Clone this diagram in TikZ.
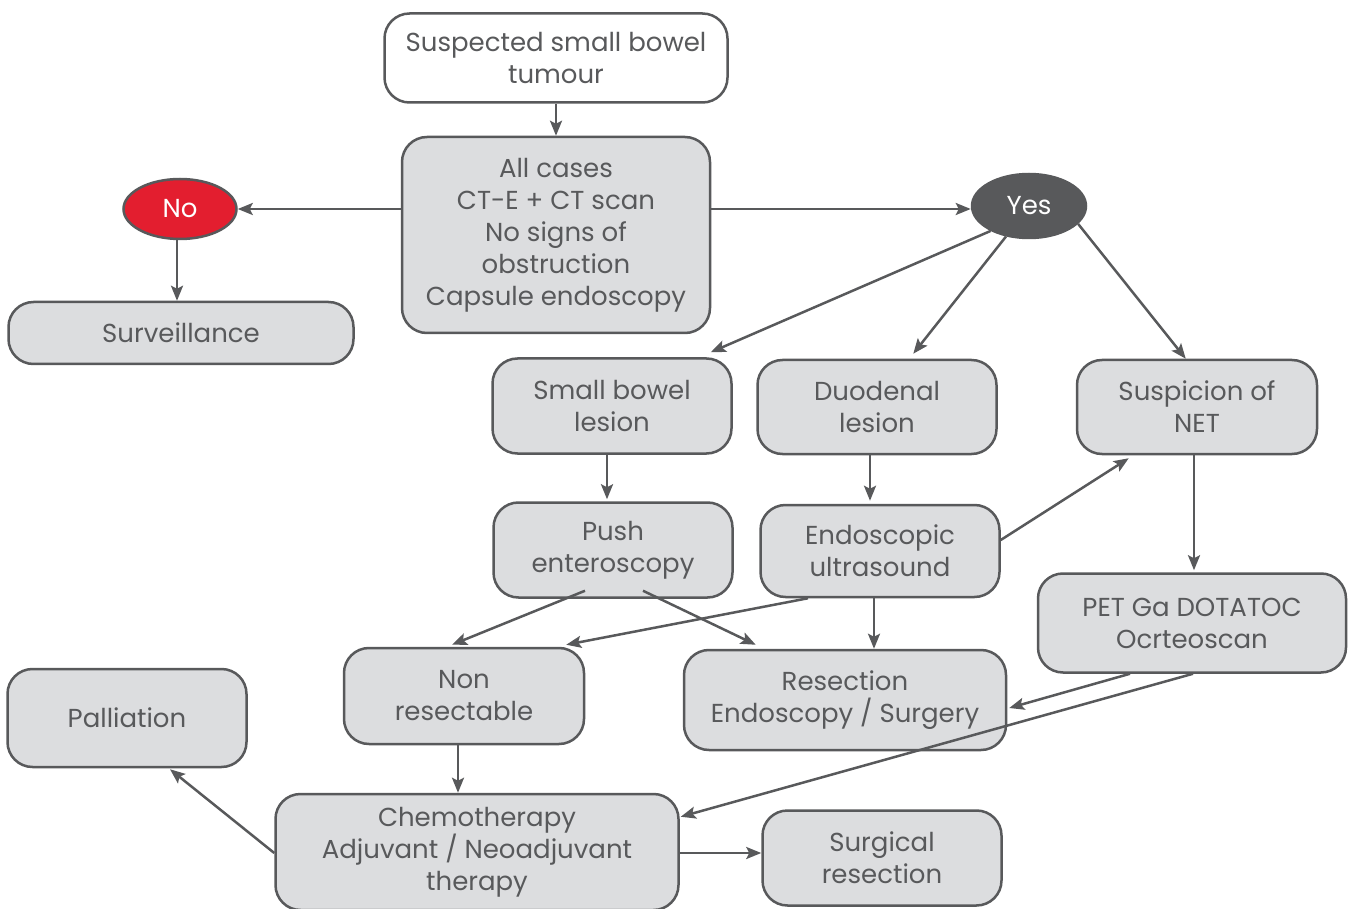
\documentclass[tikz,border=0pt]{standalone}
\usepackage{fontspec}
\setmainfont{Poppins}
\usetikzlibrary{shapes.geometric,arrows.meta,calc}
\definecolor{ink}{HTML}{58595B}
\definecolor{boxfill}{HTML}{DCDDDF}
\definecolor{nored}{HTML}{E31E2F}
\tikzset{
  box/.style={draw=ink, line width=2.5pt, fill=boxfill, rounded corners=25pt, align=center,
    text=ink, font=\fontsize{26}{32}\selectfont, inner sep=0pt},
  oval/.style={ellipse, draw=ink, line width=2.5pt, text=white, inner sep=0pt,
    font=\fontsize{26}{32}\selectfont},
  arr/.style={draw=ink, line width=2.5pt, -{Stealth[length=15pt,width=12pt,inset=3pt]}},
}
\begin{document}
\begin{tikzpicture}[x=1pt,y=-1pt]
\useasboundingbox (0,0) rectangle (1350,909);
\node[box, fill=white, minimum width=343, minimum height=89] (sus) at (556,58) {Suspected small bowel\\tumour};
\node[box, minimum width=308, minimum height=196] (all) at (556,235) {All cases\\CT-E + CT scan\\No signs of\\obstruction\\Capsule endoscopy};
\node[oval, fill=nored, minimum width=113, minimum height=60] (no) at (180,209) {No};
\node[oval, fill=ink, minimum width=114, minimum height=64] (yes) at (1029,206) {Yes};
\node[box, minimum width=345, minimum height=62] (surv) at (181,333) {Surveillance};
\node[box, minimum width=239, minimum height=95] (sbl) at (612,406) {Small bowel\\lesion};
\node[box, minimum width=239, minimum height=94] (duo) at (877,407) {Duodenal\\lesion};
\node[box, minimum width=240, minimum height=94] (net) at (1197,407) {Suspicion of\\NET};
\node[box, minimum width=239, minimum height=95] (push) at (613,550) {Push\\enteroscopy};
\node[box, minimum width=239, minimum height=92] (eus) at (880,551) {Endoscopic\\ultrasound};
\node[box, minimum width=308, minimum height=99] (pet) at (1192,623) {PET Ga DOTATOC\\Ocrteoscan};
\node[box, minimum width=240, minimum height=96] (nr) at (464,696) {Non\\resectable};
\node[box, minimum width=322, minimum height=100] (res) at (845,700) {Resection\\Endoscopy / Surgery};
\node[box, minimum width=239, minimum height=98] (pall) at (127,718) {Palliation};
\node[box, minimum width=403, minimum height=116] (chemo) at (477,852) {Chemotherapy\\Adjuvant / Neoadjuvant\\therapy};
\node[box, minimum width=239, minimum height=95] (surg) at (882,858) {Surgical\\resection};

\draw[arr] (sus.south) -- (all.north);
\draw[arr] ($(all.west)+(0,-26)$) -- (no.east);
\draw[arr] ($(all.east)+(0,-26)$) -- ($(yes.west)+(0,3)$);
\draw[arr] ($(no.south)+(-3,0)$) -- ($(surv.north)+(-4,0)$);
\draw[arr] (yes.213) -- ($(sbl.north east)+(-22,-5)$);
\draw[arr] (yes.233) -- ($(duo.north west)+(157,-5)$);
\draw[arr] (yes.340) -- ($(net.north west)+(110,0)$);
\draw[arr] ($(sbl.south)+(-5,0)$) -- ($(push.north)+(-6,-2)$);
\draw[arr] ($(duo.south)+(-7,0)$) -- ($(eus.north)+(-10,-3)$);
\draw[arr] ($(net.south)+(-3,0)$) -- ($(pet.north)+(2,-2)$);
\draw[arr] ($(eus.east)+(0,-11)$) -- ($(net.south west)+(53,3)$);
\draw[arr] ($(push.south)+(-28,-8)$) -- ($(nr.north)+(-12,-2)$);
\draw[arr] ($(push.south)+(30,-8)$) -- ($(res.north west)+(73,-4)$);
\draw[arr] ($(eus.south)+(-72,0)$) -- ($(nr.north east)+(-19,-2)$);
\draw[arr] ($(eus.south)+(-6,0)$) -- ($(res.north)+(29,0)$);
\draw[arr] ($(pet.south)+(-62,0)$) -- ($(res.east)+(2,8)$);
\draw[arr] ($(pet.south)+(1,0)$) -- ($(chemo.north east)+(1,24)$);
\draw[arr] ($(nr.south)+(-6,0)$) -- ($(chemo.north)+(-19,0)$);
\draw[arr] ($(chemo.west)+(0,1)$) -- ($(pall.south)+(43,1)$);
\draw[arr] ($(chemo.east)+(0,1)$) -- ($(surg.west)+(0,-5)$);
\end{tikzpicture}
\end{document}
